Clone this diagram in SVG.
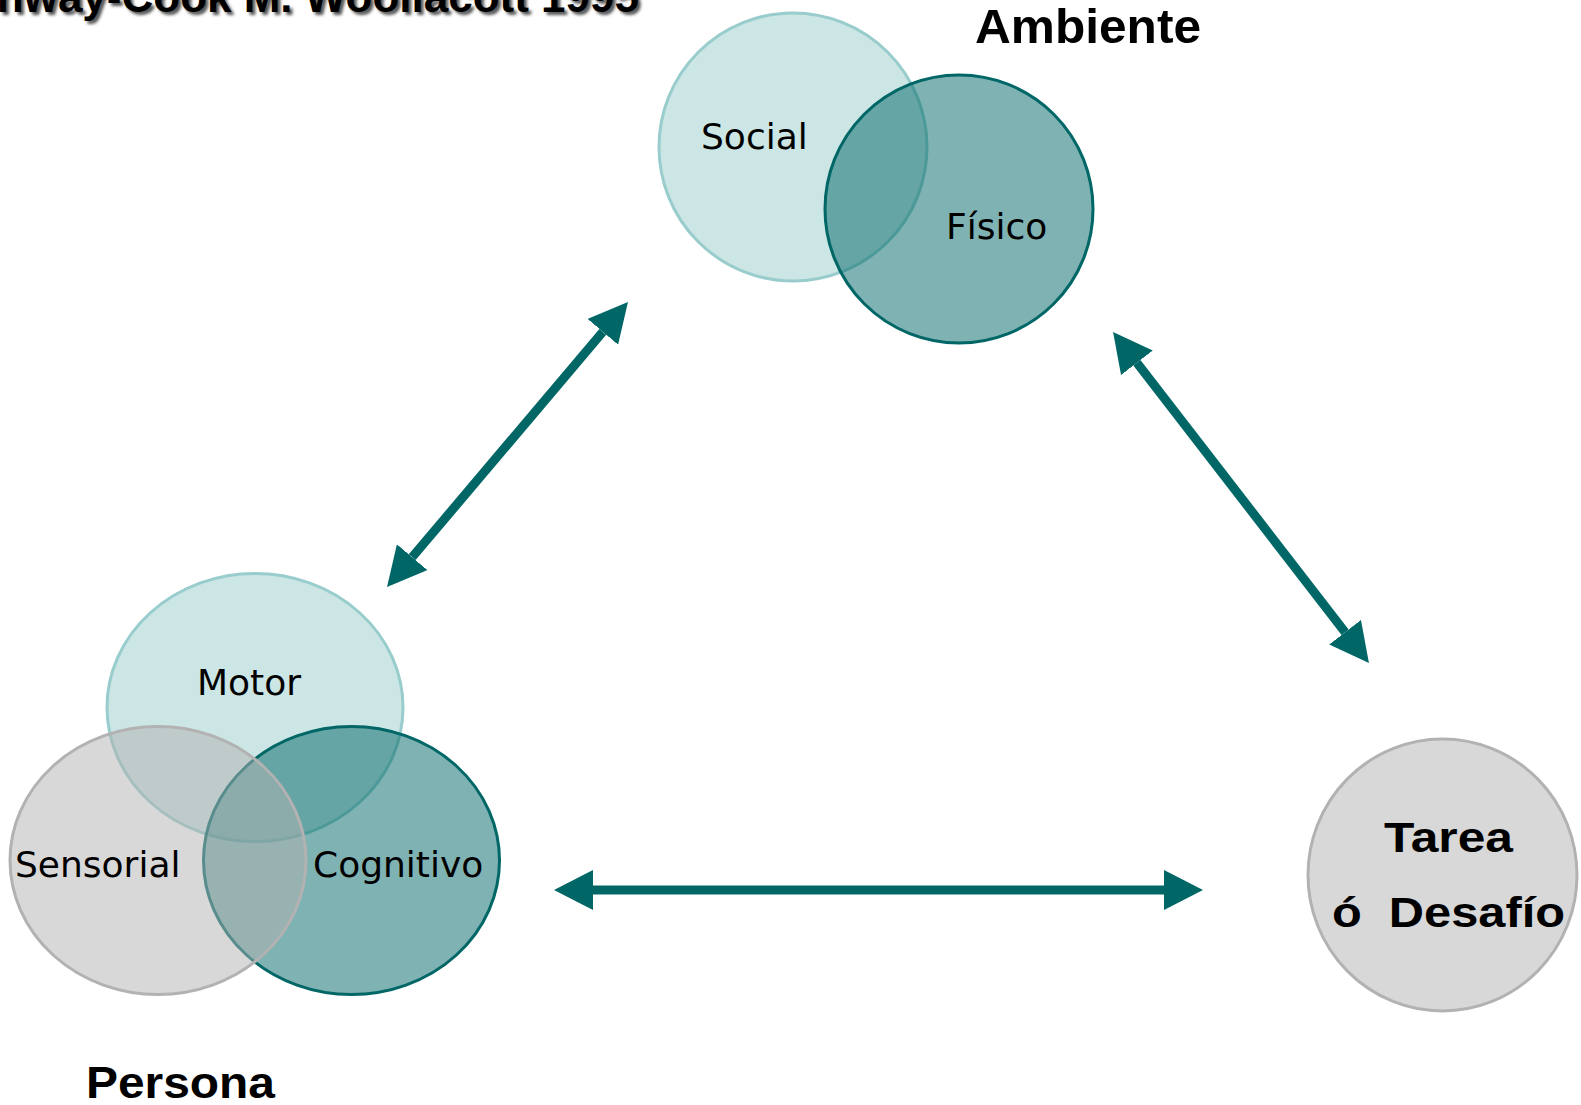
<svg xmlns="http://www.w3.org/2000/svg" width="1581" height="1105" viewBox="0 0 1581 1105">
<style>
.lbl{font-family:"DejaVu Sans","Liberation Sans",sans-serif;font-size:36px;fill:#000}
.big{font-family:"Liberation Sans",Arial,sans-serif;font-weight:bold;fill:#000}
.task{font-family:"Liberation Sans",Arial,sans-serif;font-weight:bold;font-size:42px;fill:#000;white-space:pre}
.light{fill:#99CCCC;fill-opacity:0.5;stroke:#99CCCC;stroke-width:3}
.dark{fill:#006666;fill-opacity:0.5;stroke:#006666;stroke-width:3}
.grey{fill:#B2B2B2;fill-opacity:0.5;stroke:#B2B2B2;stroke-width:3}
.conn{stroke:#006666;stroke-width:9;fill:none;marker-start:url(#head);marker-end:url(#head)}
.title{font-family:"Liberation Sans",Arial,sans-serif;font-weight:bold;font-size:44px}
</style>
<defs>
<marker id="head" viewBox="0 0 39 40" refX="0" refY="20" markerWidth="39" markerHeight="40" markerUnits="userSpaceOnUse" orient="auto-start-reverse">
<path d="M0,0 L39,20 L0,40 z" fill="#006666"/>
</marker>
<filter id="soft" x="-5%" y="-50%" width="110%" height="200%">
<feGaussianBlur stdDeviation="1.5"/>
</filter>
</defs>
<g id="citation">
<text class="title" x="642" y="15" text-anchor="end" fill="#555" filter="url(#soft)">nway-Cook M. Woollacott 1995</text>
<text class="title" x="639" y="12" text-anchor="end" fill="#000">nway-Cook M. Woollacott 1995</text>
</g>
<g id="ambiente">
<ellipse class="light" cx="793" cy="147" rx="134" ry="134"/>
<ellipse class="dark" cx="959" cy="209" rx="134" ry="134"/>
<text class="lbl" x="701" y="149">Social</text>
<text class="lbl" x="946" y="239">Físico</text>
<text class="big" x="975" y="43" font-size="48" textLength="226" lengthAdjust="spacingAndGlyphs">Ambiente</text>
</g>
<g id="persona">
<ellipse class="light" cx="255" cy="707.5" rx="148" ry="134"/>
<ellipse class="dark" cx="351.5" cy="860.5" rx="148" ry="134"/>
<ellipse class="grey" cx="158" cy="860.5" rx="148" ry="134"/>
<text class="lbl" x="197" y="695">Motor</text>
<text class="lbl" x="15" y="877">Sensorial</text>
<text class="lbl" x="313" y="877">Cognitivo</text>
<text class="big" x="86" y="1098" font-size="45" textLength="189" lengthAdjust="spacingAndGlyphs">Persona</text>
</g>
<g id="tarea">
<ellipse cx="1442.5" cy="875" rx="134.5" ry="136" fill="#D8D8D8" stroke="#B2B2B2" stroke-width="3"/>
<text class="task" x="1384" y="852" textLength="129" lengthAdjust="spacingAndGlyphs">Tarea</text>
<text class="task" x="1332" y="927" textLength="233" lengthAdjust="spacingAndGlyphs">ó  Desafío</text>
</g>
<g id="connectors">
<line class="conn" x1="412.2" y1="557.2" x2="602.8" y2="331.8"/>
<line class="conn" x1="1136.9" y1="362.8" x2="1345.1" y2="632.2"/>
<line class="conn" x1="593" y1="890" x2="1164" y2="890"/>
</g>
</svg>
